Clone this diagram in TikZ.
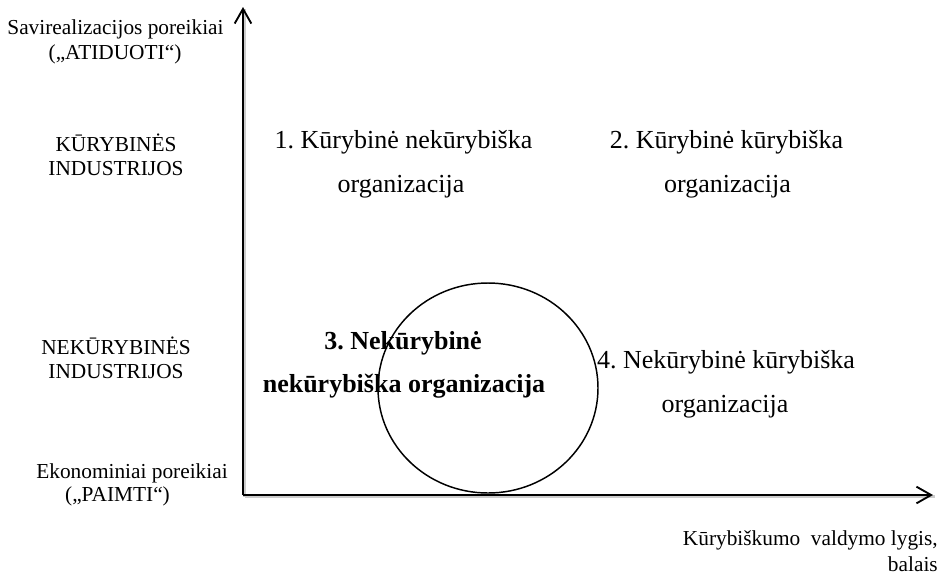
\documentclass[tikz,border=0pt]{standalone}
\usepackage{fontspec}
\setmainfont{Liberation Serif}
\usetikzlibrary{arrows.meta}
\frenchspacing
\begin{document}
\frenchspacing
\begin{tikzpicture}[x=0.75pt,y=-0.75pt,
  lab/.style={inner sep=0pt,anchor=base,font=\fontsize{16}{19}\selectfont},
  quad/.style={inner sep=0pt,anchor=base,font=\fontsize{19.5}{23}\selectfont},
  qbold/.style={quad,font=\fontsize{19.5}{23}\selectfont\bfseries},
  axis/.style={line width=1.6pt,-{Straight Barb[length=11pt,width=12.5pt,line width=1.4pt]}},
  shadowline/.style={line width=1.6pt,draw=black!20}]
\useasboundingbox (0,0) rectangle (945,576);
% axes
\coordinate (O) at (243,495);
\coordinate (Ytop) at (243,7);
\coordinate (Xend) at (933,495);
\draw[shadowline] ([shift={(1.5,1.5)}]O) -- ([shift={(1.5,1.5)}]Xend);
\draw[shadowline] ([shift={(1.5,1.5)}]O) -- ([shift={(1.5,1.5)}]Ytop);
\draw[axis] (O) -- (Ytop);
\draw[axis] (O) -- (Xend);
% left labels
\node[lab] (s1) at (115.5,34) {Savirealizacijos poreikiai};
\node[lab] (s2) at (115,59) {(„ATIDUOTI“)};
\node[lab] (k1) at (116,151) {KŪRYBINĖS};
\node[lab] (k2) at (116,175) {INDUSTRIJOS};
\node[lab] (n1) at (116,354) {NEKŪRYBINĖS};
\node[lab] (n2) at (116,378) {INDUSTRIJOS};
\node[lab] (e1) at (132,478) {Ekonominiai poreikiai};
\node[lab] (e2) at (117.5,501) {(„PAIMTI“)};
% quadrants
\node[quad] (q1a) at (403.5,148) {1. Kūrybinė nekūrybiška};
\node[quad] (q1b) at (401,192) {organizacija};
\node[quad] (q2a) at (726.5,148) {2. Kūrybinė kūrybiška};
\node[quad] (q2b) at (727.5,192) {organizacija};
\node[qbold] (q3a) at (403,349) {3. Nekūrybinė};
\node[qbold] (q3b) at (404,392) {nekūrybiška organizacija};
\node[quad] (q4a) at (726,368) {4. Nekūrybinė kūrybiška};
\node[quad] (q4b) at (725,412) {organizacija};
% circle
\draw[line width=1.1pt] (488,388) ellipse [x radius=110, y radius=105];
% x axis label
\node[lab,anchor=base east] (x1) at (938,545) {Kūrybiškumo\ \ valdymo lygis,};
\node[lab,anchor=base east] (x2) at (938,571) {balais};
\end{tikzpicture}
\end{document}
